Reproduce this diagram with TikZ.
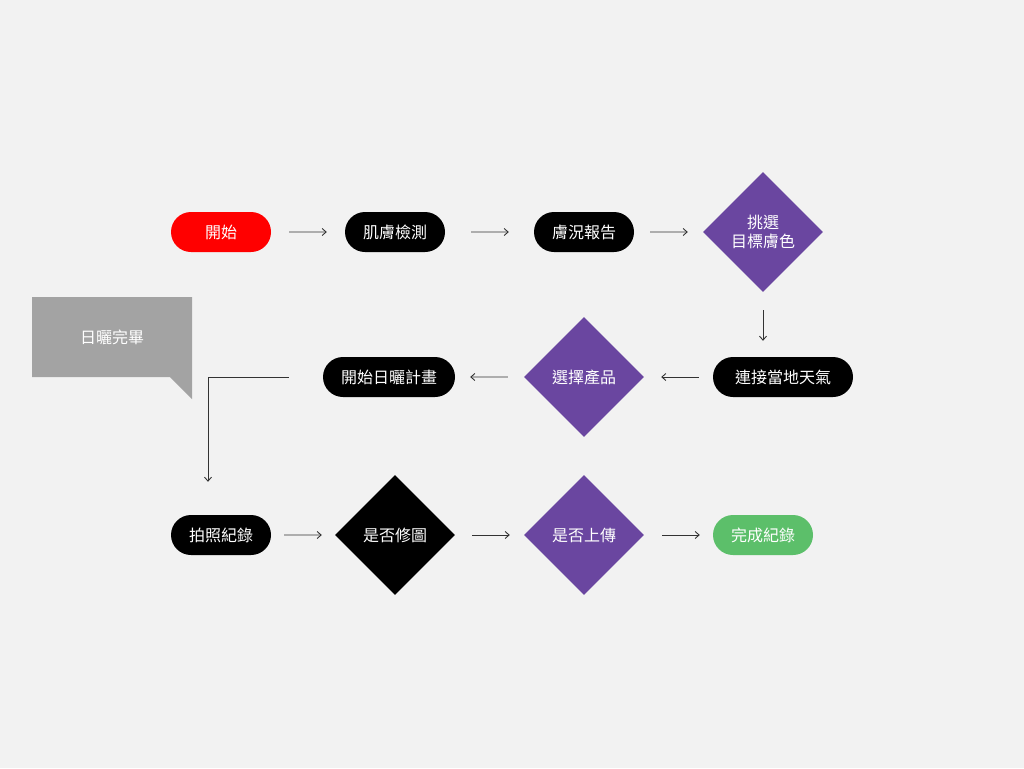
\documentclass[tikz,border=0pt]{standalone}
\usepackage{fontspec}
\setmainfont{Noto Sans CJK TC}
\usetikzlibrary{shapes.geometric,shapes.misc,arrows.meta}
\definecolor{bg}{HTML}{F2F2F2}
\definecolor{myred}{HTML}{FF0000}
\definecolor{mypurple}{HTML}{6A46A0}
\definecolor{mygreen}{HTML}{5CBF6A}
\definecolor{mygray}{HTML}{A3A3A3}
\tikzset{
  pill/.style={rounded rectangle, minimum height=40pt, minimum width=100pt, inner sep=0pt, text=white, font=\fontsize{16pt}{19pt}\selectfont},
  blackpill/.style={pill, fill=black},
  decision/.style={diamond, aspect=1, minimum width=120pt, minimum height=120pt, inner sep=0pt, text=white, align=center, font=\fontsize{16pt}{19pt}\selectfont},
  flow/.style={-{Straight Barb[length=4pt,width=7pt]}, line width=0.9pt, black!80},
}
\begin{document}
\begin{tikzpicture}[x=1pt,y=-1pt]
\useasboundingbox (0,0) rectangle (1024,768);
\fill[bg] (0,0) rectangle (1024,768);

% callout
\fill[mygray] (32,297) -- (192,297) -- (192,399) -- (170,377) -- (32,377) -- cycle;
\node[text=white, font=\fontsize{16pt}{19pt}\selectfont] (done) at (112,337) {日曬完畢};

% row 1
\node[pill, fill=myred] (start) at (221,232) {開始};
\node[blackpill] (skin) at (395,232) {肌膚檢測};
\node[blackpill] (report) at (584,232) {膚況報告};
\node[decision, fill=mypurple] (target) at (763,232) {挑選\\目標膚色};

% row 2
\node[blackpill, minimum width=140pt] (weather) at (783,377) {連接當地天氣};
\node[decision, fill=mypurple] (product) at (584,377) {選擇產品};
\node[blackpill, minimum width=132pt] (plan) at (389,377) {開始日曬計畫};
\coordinate (bend) at (208,377);

% row 3
\node[blackpill] (photo) at (221,535) {拍照紀錄};
\node[decision, fill=black] (edit) at (395,535) {是否修圖};
\node[decision, fill=mypurple] (upload) at (584,535) {是否上傳};
\node[pill, fill=mygreen] (finish) at (763,535) {完成紀錄};

% connectors
\draw[flow, shorten <=18pt, shorten >=18pt] (start) -- (skin);
\draw[flow, shorten <=26pt, shorten >=25pt] (skin) -- (report);
\draw[flow, shorten <=16pt, shorten >=15pt] (report) -- (target);
\draw[flow, shorten <=18pt, shorten >=16pt] (target) -- (weather.north -| target);
\draw[flow, shorten <=14pt, shorten >=17pt] (weather) -- (product);
\draw[flow, shorten <=16pt, shorten >=15pt] (product) -- (plan);
\draw[flow, shorten <=34pt] (plan.west) -- (bend) -- ([yshift=33pt]bend |- photo.north);
\draw[flow, shorten <=13pt, shorten >=13pt] (photo) -- (edit);
\draw[flow, shorten <=17pt, shorten >=14pt] (edit) -- (upload);
\draw[flow, shorten <=18pt, shorten >=13pt] (upload) -- (finish);
\end{tikzpicture}
\end{document}
